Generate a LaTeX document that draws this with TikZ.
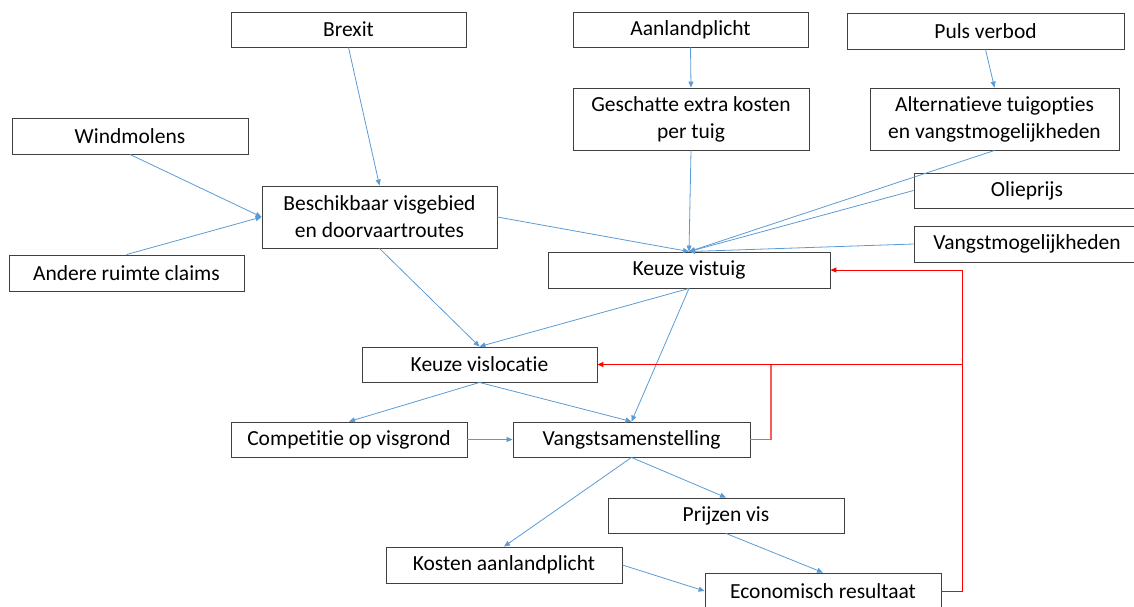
\documentclass[tikz,border=0pt]{standalone}
\usepackage{fontspec}
\setmainfont{Carlito}[Ligatures={NoCommon}]
\usetikzlibrary{arrows.meta}
\definecolor{arrowblue}{RGB}{91,155,213}
\definecolor{boxline}{RGB}{64,64,64}
\definecolor{fbred}{RGB}{255,0,0}
\definecolor{fbpink}{RGB}{250,90,90}
\begin{document}
\begin{tikzpicture}[x=1pt,y=-1pt,
  box/.style={draw=boxline,line width=0.9pt,rectangle,inner sep=0pt,align=center,
    font=\fontsize{21.5}{27}\selectfont},
  arr/.style={draw=arrowblue,line width=0.8pt,-{Triangle[length=6pt,width=5pt]}},
  fb/.style={draw=fbred,line width=1pt},
  fbarr/.style={draw=fbred,line width=1pt,-{Triangle[length=6pt,width=5pt]}},
  fbsoft/.style={draw=fbpink,line width=1.6pt},
]
\useasboundingbox (0,0) rectangle (1134,606);
\clip (0,0) rectangle (1134,606);

% nodes
\node[box,minimum width=235pt,minimum height=35pt] (brexit) at (348.5,29.5) {Brexit};
\node[box,minimum width=235pt,minimum height=35pt] (aanland) at (690.5,29.5) {Aanlandplicht};
\node[box,minimum width=277pt,minimum height=36pt] (puls) at (985.5,31) {Puls verbod};
\node[box,minimum width=236pt,minimum height=36pt] (wind) at (130,136) {Windmolens};
\node[box,minimum width=236pt,minimum height=62pt] (gesch) at (691,119) {Geschatte extra kosten\\per tuig};
\node[box,minimum width=249pt,minimum height=62pt] (alt) at (994.5,119) {Alternatieve tuigopties\\en vangstmogelijkheden};
\node[box,minimum width=235pt,minimum height=62pt] (besch) at (379.5,217) {Beschikbaar visgebied\\en doorvaartroutes};
\node[box,minimum width=226pt,minimum height=35pt] (olie) at (1027,190.5) {Olieprijs};
\node[box,minimum width=235pt,minimum height=36pt] (andere) at (126.5,273) {Andere ruimte claims};
\node[box,minimum width=226pt,minimum height=36pt] (vangm) at (1027,244) {Vangstmogelijkheden};
\node[box,minimum width=282pt,minimum height=36pt] (kvt) at (689,270) {Keuze vistuig};
\node[box,minimum width=235pt,minimum height=35pt] (kvl) at (479.5,364.5) {Keuze vislocatie};
\node[box,minimum width=236pt,minimum height=35pt] (comp) at (349,439.5) {Competitie op visgrond};
\node[box,minimum width=237pt,minimum height=35pt] (vangs) at (631.5,439.5) {Vangstsamenstelling};
\node[box,minimum width=236pt,minimum height=35pt] (prijs) at (726,515.5) {Prijzen vis};
\node[box,minimum width=236pt,minimum height=36pt] (kosten) at (504,565) {Kosten aanlandplicht};
\node[box,minimum width=236pt,minimum height=36pt] (econ) at (823,591) {Economisch resultaat};

% blue connectors
\draw[arr] (brexit.south) -- (besch.north);
\draw[arr] (wind.south) -- (besch.west);
\draw[arr] (andere.north) -- (besch.west);
\draw[arr] (besch.east) -- (kvt.north);
\draw[arr] (besch.south) -- (kvl.north);
\draw[arr] (aanland.south) -- (gesch.north);
\draw[arr] (puls.south) -- (alt.north);
\draw[arr] (gesch.south) -- (kvt.north);
\draw[arr] (alt.south) -- (kvt.north);
\draw[arr] (olie.west) -- (kvt.north);
\draw[arr] (vangm.west) -- (kvt.north);
\draw[arr] (kvt.south) -- (kvl.north);
\draw[arr] (kvt.south) -- (vangs.north);
\draw[arr] (kvl.south) -- (comp.north);
\draw[arr] (kvl.south) -- (vangs.north);
\draw[arr] (comp.east) -- (vangs.west);
\draw[arr] (vangs.south) -- (kosten.north);
\draw[arr] (vangs.south) -- (prijs.north);
\draw[arr] (prijs.south) -- (econ.north);
\draw[arr] (kosten.east) -- (econ.west);

% red feedback
\coordinate (c1) at (771,364.5);
\coordinate (c2) at (962,270);
\coordinate (c3) at (962,364.5);
\draw[fbsoft] (vangs.east) -| (c1);
\draw[fbarr] (c3) -- (kvl.east);
\draw[fbarr] (econ.east) -| (c2) -- (kvt.east);
\end{tikzpicture}
\end{document}
